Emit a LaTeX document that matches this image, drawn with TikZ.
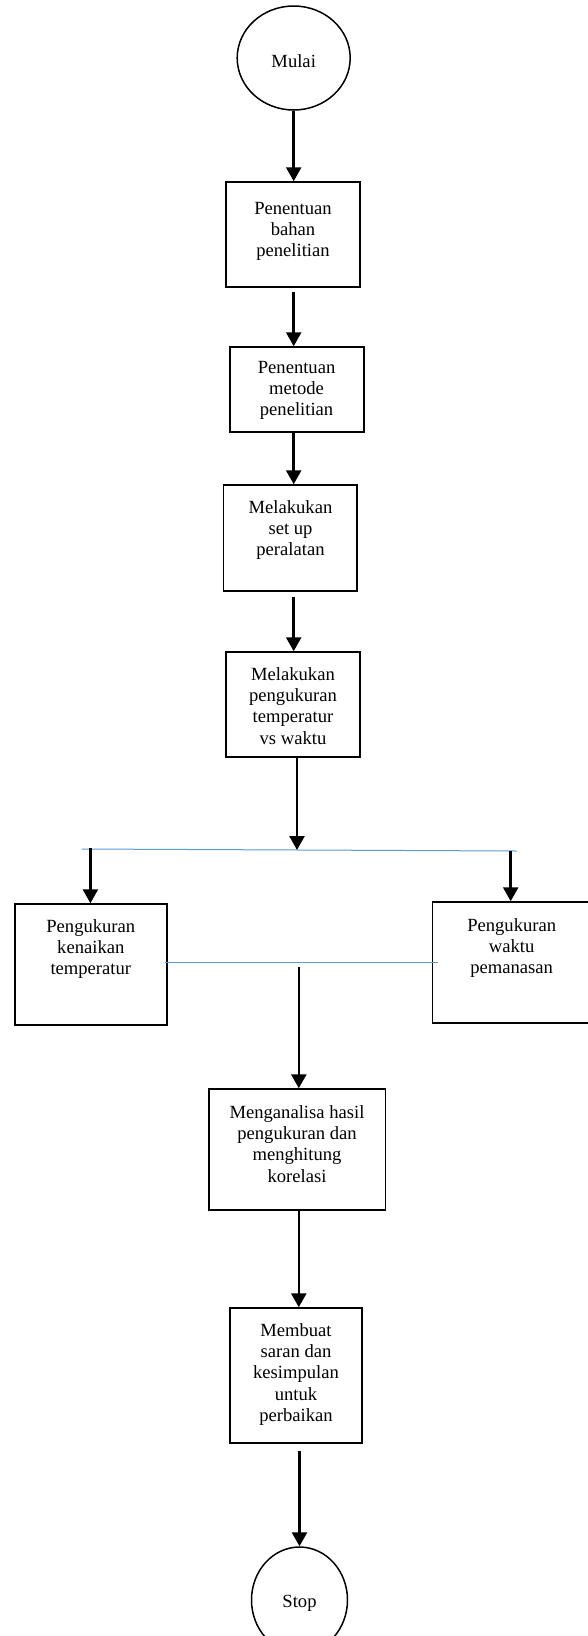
\documentclass[tikz,border=0pt]{standalone}
\usepackage{fontspec}
\setmainfont{Liberation Serif}
\usetikzlibrary{arrows.meta,shapes.geometric,calc}
\definecolor{lineblue}{HTML}{5B9BD5}
\tikzset{
  box/.style={draw=black, line width=1.5pt, rectangle, inner sep=0pt},
  term/.style={draw=black, line width=1.5pt, ellipse, inner sep=0pt},
  txt/.style={align=center, inner sep=0pt, font=\fontsize{18.6pt}{21.3pt}\selectfont},
  arr/.style={draw=black, line width=2.6pt, -{Triangle[width=15pt,length=14pt]}},
  blueline/.style={draw=lineblue, line width=1pt},
}
\begin{document}
\begin{tikzpicture}[x=1pt,y=-1pt]
\useasboundingbox (0,0) rectangle (588,1636);
\clip (0,0) rectangle (588,1636);
% terminals
\node[term, minimum width=113pt, minimum height=104pt] (mulai) at (293.7,58) {};
\node[txt, anchor=base] (tmulai) at (293.7,67.6) {Mulai};
\node[term, minimum width=96pt, minimum height=106pt] (stop) at (299.5,1600) {};
\node[txt, anchor=base] (tstop) at (299.5,1607) {Stop};
% boxes
\node[box, minimum width=134pt, minimum height=105pt] (b1) at (293,234.5) {};
\node[txt, anchor=north] (t1) at (293,202) {Penentuan\\bahan\\penelitian};
\node[box, minimum width=134pt, minimum height=85pt] (b2) at (297,389.5) {};
\node[txt, anchor=north] (t2) at (296.6,361) {Penentuan\\metode\\penelitian};
\node[box, minimum width=133.5pt, minimum height=106pt] (b3) at (290.25,538) {};
\node[txt, anchor=north] (t3) at (290.5,500) {Melakukan\\set up\\peralatan};
\node[box, minimum width=134pt, minimum height=105pt] (b4) at (293,704.5) {};
\node[txt, anchor=north] (t4) at (293,667) {Melakukan\\pengukuran\\temperatur\\vs waktu};
\node[box, minimum width=152pt, minimum height=121pt] (bL) at (91,964.5) {};
\node[txt, anchor=north] (tL) at (90.8,919) {Pengukuran\\kenaikan\\temperatur};
\node[box, minimum width=158pt, minimum height=121pt] (bR) at (511.7,962.5) {};
\node[txt, anchor=north] (tR) at (511.7,918) {Pengukuran\\waktu\\pemanasan};
\node[box, minimum width=176.5pt, minimum height=121pt] (b5) at (297.25,1149.5) {};
\node[txt, anchor=north] (t5) at (297,1105) {Menganalisa hasil\\pengukuran dan\\menghitung\\korelasi};
\node[box, minimum width=132pt, minimum height=135pt] (b6) at (296,1375.5) {};
\node[txt, anchor=north] (t6) at (296,1323) {Membuat\\saran dan\\kesimpulan\\untuk\\perbaikan};
% junction coordinates
\coordinate (bl1a) at (82,849);
\coordinate (bl1b) at (517,851);
\coordinate (j1) at (297,850);
\coordinate (jl) at (90.4,848);
\coordinate (jr) at (510.7,850.5);
\coordinate (bl2a) at (165,962);
\coordinate (bl2b) at (438,962);
\coordinate (j2) at (298.8,967);
% blue lines
\draw[blueline] (bl1a) -- (bl1b);
\draw[blueline] (bl2a) -- (bl2b);
% connectors
\draw[arr] (mulai.south) -- (mulai.south |- b1.north);
\draw[arr, shorten <=4pt] (b1.south -| mulai.south) -- (b2.north -| mulai.south);
\draw[arr] (b2.south -| mulai.south) -- (b3.north -| mulai.south);
\draw[arr, shorten <=5pt] (b3.south -| mulai.south) -- (b4.north -| mulai.south);
\draw[arr] (b4.south -| j1) -- (j1);
\draw[arr] (jl) -- (jl |- bL.north);
\draw[arr] (jr) -- (jr |- bR.north);
\draw[arr] (j2) -- (j2 |- b5.north);
\draw[arr] (b5.south -| j2) -- (b6.north -| j2);
\draw[arr, shorten <=7pt] (b6.south -| stop.north) -- (stop.north);
\end{tikzpicture}
\end{document}
